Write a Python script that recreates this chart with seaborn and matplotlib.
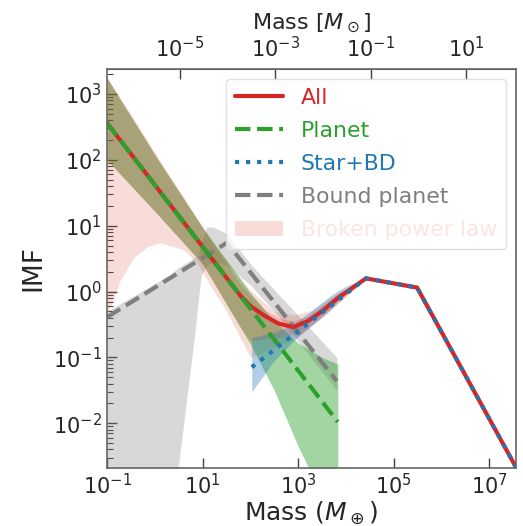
import numpy as np
import matplotlib
matplotlib.use("Agg")
import matplotlib.pyplot as plt
from matplotlib.lines import Line2D
from matplotlib.patches import Patch
from matplotlib.ticker import NullLocator, FixedLocator
import seaborn as sns

# all values are log10: mass in Earth masses, IMF
planet_logm = [-1.0, 3.83]
planet_logimf = [2.56, -1.98]

star_logm = [2.03, 4.42, 5.49, 7.56]
star_logimf = [-1.15, 0.20, 0.06, -2.67]

all_logm = [-1.0, 1.8, 2.0, 2.3, 2.6, 2.9, 3.2, 3.5, 3.83, 4.42, 5.49, 7.56]
all_logimf = [2.56, -0.07, -0.22, -0.37, -0.49, -0.54, -0.45, -0.30, -0.10, 0.20, 0.06, -2.67]

bound_logm = [-1.0, 1.51, 3.81]
bound_logimf = [-0.39, 0.74, -1.36]

# uncertainty bands
planet_band_logm = [-1.0, 0.0, 1.0, 2.0, 2.5, 3.0, 3.5, 3.83]
planet_band_up = [3.24, 2.08, 0.97, -0.02, -0.45, -0.78, -1.00, -1.10]
planet_band_low = [2.00, 1.22, 0.42, -0.80, -1.50, -2.35, -3.10, -3.60]

all_band_logm = [-1.0, 0.0, 1.0, 1.8, 2.0, 2.3, 2.6, 2.9, 3.2, 3.5, 3.83, 4.42]
all_band_up = [3.24, 2.08, 0.97, 0.10, -0.05, -0.28, -0.40, -0.45, -0.37, -0.22, -0.03, 0.20]
all_band_low = [2.00, 1.22, 0.42, -0.55, -0.75, -0.72, -0.70, -0.65, -0.55, -0.40, -0.18, 0.20]

bpl_band_logm = [-1.0, -0.87, -0.73, -0.46, -0.16, 0.11, 0.59, 0.88, 1.2, 1.5, 2.0,
                 2.5, 2.9, 3.3, 3.8, 4.42]
bpl_band_up = [3.26, 3.11, 2.95, 2.65, 2.30, 1.98, 1.45, 1.12, 0.78, 0.48, 0.02,
               -0.30, -0.36, -0.28, -0.04, 0.20]
bpl_band_low = [-0.35, -0.12, 0.16, 0.50, 0.68, 0.74, 0.64, 0.44, 0.05, -0.30, -1.00,
                -0.85, -0.72, -0.52, -0.20, 0.20]

star_band_logm = [2.03, 2.5, 2.9, 3.3, 3.7, 4.0, 4.42]
star_band_up = [-0.70, -0.62, -0.50, -0.28, -0.05, 0.08, 0.20]
star_band_low = [-1.52, -1.05, -0.75, -0.50, -0.25, -0.03, 0.20]

bound_band_logm = [-1.0, 0.0, 0.3, 0.49, 0.84, 0.9, 0.97, 1.09, 1.22, 1.51, 2.0, 2.56, 2.83, 3.81]
bound_band_up = [-0.30, 0.12, 0.25, 0.36, 0.52, 0.55, 0.75, 0.98, 0.98, 0.88, 0.42, -0.02, -0.23, -1.00]
bound_band_low = [-4.0, -4.0, -4.0, -2.68, -0.62, -0.20, 0.23, 0.40, 0.45, 0.40, 0.10, -0.35, -0.60, -1.50]

MSUN = 333000.0

red, green, blue, gray = "#d62728", "#2ca02c", "#1f77b4", "#7f7f7f"
salmon = "#e0533a"

sns.set_style("ticks", {"xtick.direction": "in", "ytick.direction": "in",
                        "axes.edgecolor": "0.4"})
plt.rcParams["font.family"] = ["DejaVu Sans"]
plt.rcParams["mathtext.fontset"] = "dejavusans"


def p(a):
    return 10 ** np.asarray(a)


fig = plt.figure(figsize=(5.23, 5.26), dpi=100)
ax = fig.add_axes([0.2046, 0.1103, 0.782, 0.7585])
ax.set_xscale("log")
ax.set_yscale("log")

ax.fill_between(p(bound_band_logm), p(bound_band_low), p(bound_band_up),
                color=gray, alpha=0.3, lw=0)
ax.fill_between(p(bpl_band_logm), p(bpl_band_low), p(bpl_band_up),
                color=salmon, alpha=0.2, lw=0)
ax.fill_between(p(planet_band_logm), p(planet_band_low), p(planet_band_up),
                color=green, alpha=0.44, lw=0)
ax.fill_between(p(all_band_logm), p(all_band_low), p(all_band_up),
                color=red, alpha=0.2, lw=0)
ax.fill_between(p(star_band_logm), p(star_band_low), p(star_band_up),
                color=blue, alpha=0.35, lw=0)

sns.lineplot(x=p(bound_logm), y=p(bound_logimf), ax=ax, color=gray,
             linestyle="--", lw=3, legend=False)
sns.lineplot(x=p(all_logm), y=p(all_logimf), ax=ax, color=red,
             lw=3, legend=False)
sns.lineplot(x=p(planet_logm), y=p(planet_logimf), ax=ax, color=green,
             linestyle="--", lw=3, legend=False)
sns.lineplot(x=p(star_logm), y=p(star_logimf), ax=ax, color=blue,
             linestyle=":", lw=3, legend=False)

ax.set_xlim(0.1, 10 ** 7.56)
ax.set_ylim(10 ** -2.68, 10 ** 3.38)

ax.xaxis.set_major_locator(FixedLocator([1e-1, 1e1, 1e3, 1e5, 1e7]))
ax.xaxis.set_minor_locator(NullLocator())
ax.tick_params(axis="both", which="major", length=7.5, width=1,
               labelsize=15, color="0.25", top=False, right=False)
ax.tick_params(axis="y", which="minor", length=4.5, width=0.8, color="0.25")
for s in ax.spines.values():
    s.set_linewidth(1.2)
    s.set_visible(True)

ax.set_xlabel(r"Mass ($M_\oplus$)", fontsize=18, labelpad=1)
ax.set_ylabel("IMF", fontsize=19, labelpad=5)

sec = ax.secondary_xaxis("top", functions=(lambda m: m / MSUN,
                                           lambda m: m * MSUN))
sec.xaxis.set_major_locator(FixedLocator([1e-5, 1e-3, 1e-1, 1e1]))
sec.xaxis.set_minor_locator(NullLocator())
sec.tick_params(axis="x", which="major", direction="in", length=7.5,
                width=1, labelsize=15, color="0.25", pad=5.5)
sec.set_xlabel(r"Mass [$M_\odot$]", fontsize=16, labelpad=5)

handles = [
    Line2D([], [], color=red, lw=3),
    Line2D([], [], color=green, lw=3, linestyle="--"),
    Line2D([], [], color=blue, lw=3, linestyle=":"),
    Line2D([], [], color=gray, lw=3, linestyle="--"),
    Patch(facecolor=salmon, alpha=0.2, edgecolor="none"),
]
labels = ["All", "Planet", "Star+BD", "Bound planet", "Broken power law"]
leg = ax.legend(handles, labels, loc="upper right", fontsize=15.8,
                handlelength=2.2, labelspacing=0.6, framealpha=0.8,
                edgecolor="0.85", fancybox=True, borderaxespad=0.45)
text_colors = [red, green, blue, gray, (0.88, 0.33, 0.23, 0.15)]
for t, c in zip(leg.get_texts(), text_colors):
    t.set_color(c)

fig.savefig("out.png", dpi=100)
